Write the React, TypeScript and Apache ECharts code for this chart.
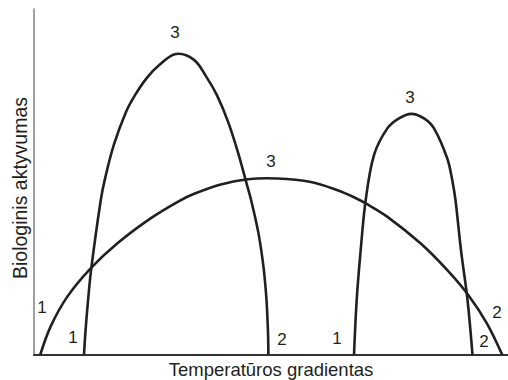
import React, { useEffect, useRef } from "react";
import * as echarts from "echarts";

// Curve 1: narrow tall arc (values in % of axis range)
const tallX = [10.55, 10.84, 11.41, 12.09, 14.09, 15.02, 16.84, 19.41, 21.31, 23.82, 26.43, 29.92, 33.76, 36.5, 38.59, 40.97, 43.0, 44.94, 45.8, 47.34, 48.42, 49.05, 49.37, 49.45];
const tallY = [0, 6.4, 15.9, 25.1, 44.8, 51.2, 60.7, 70.2, 75.1, 80.1, 83.8, 87.0, 85.3, 80.1, 75.1, 67.3, 58.7, 49.1, 44.8, 35.3, 25.4, 15.9, 6.4, 0];

// Curve 2: wide low arc
const wideX = [1.3, 3.5, 7.0, 12.0, 17.6, 24.6, 30.6, 33.8, 39.4, 45.1, 51.3, 58.4, 63.9, 67.5, 70.0, 74.5, 81.6, 87.2, 91.8, 95.6, 98.8];
const wideY = [0, 8.2, 16.8, 25.1, 32.3, 39.5, 44.5, 46.6, 49.3, 50.8, 51.0, 50.0, 47.7, 45.6, 43.8, 40.0, 32.2, 24.5, 17.0, 9.0, 0];

// Curve 3: right narrow arc
const rightX = [67.51, 68.08, 68.92, 69.98, 71.73, 74.54, 77.0, 79.6, 82.28, 84.39, 87.19, 88.23, 88.92, 90.08, 91.46, 92.51];
const rightY = [0, 15.9, 30.3, 44.8, 57.8, 65.5, 68.4, 69.7, 68.4, 65.5, 56.8, 50.6, 44.8, 30.3, 15.9, 0];

const xAxisTitle = "Temperatūros gradientas";
const yAxisTitle = "Biologinis aktyvumas";
const markTexts = ["1", "1", "2", "1", "2", "2", "3", "3", "3"];
const markPos: [number, number][] = [
  [42, 307],
  [73, 337],
  [282, 339],
  [337, 338],
  [484, 341],
  [497, 312],
  [175, 32],
  [271, 161],
  [410, 97],
];

const zip = (xs: number[], ys: number[]) => xs.map((x, i) => [x, ys[i]]);

const FONT = "'Liberation Sans', Arial, Helvetica, sans-serif";
const INK = "#231f20";

export default function App() {
  const ref = useRef<HTMLDivElement>(null);
  useEffect(() => {
    if (!ref.current) return;
    const chart = echarts.init(ref.current, null, { renderer: "svg" });
    const curveSeries = (xs: number[], ys: number[]) => ({
      type: "custom",
      data: zip(xs, ys),
      encode: { x: 0, y: 1 },
      silent: true,
      clip: false,
      renderItem: (params: any, api: any) => {
        if (params.dataIndex !== 0) return { type: "group", children: [] };
        const pts = xs.map((x, i) => api.coord([x, ys[i]]));
        return {
          type: "polyline",
          shape: { points: pts, smooth: 0.35 },
          style: { stroke: INK, lineWidth: 2.6, fill: null, lineJoin: "round", lineCap: "butt" },
        };
      },
    });
    chart.setOption({
      animation: false,
      backgroundColor: "#ffffff",
      grid: { left: 34, right: 0, top: 9, bottom: 25, containLabel: false },
      xAxis: {
        type: "value",
        min: 0,
        max: 100,
        axisLine: { show: true, onZero: false, lineStyle: { color: "#333333", width: 2 } },
        axisTick: { show: false },
        axisLabel: { show: false },
        splitLine: { show: false },
      },
      yAxis: {
        type: "value",
        min: 0,
        max: 100,
        axisLine: { show: true, onZero: false, lineStyle: { color: "#808080", width: 1.5 } },
        axisTick: { show: false },
        axisLabel: { show: false },
        splitLine: { show: false },
      },
      series: [curveSeries(tallX, tallY), curveSeries(wideX, wideY), curveSeries(rightX, rightY)],
      graphic: [
        {
          type: "text",
          x: 271,
          y: 369,
          style: {
            text: xAxisTitle,
            fontSize: 18.5,
            fontFamily: FONT,
            fill: INK,
            textAlign: "center",
            textVerticalAlign: "middle",
          },
        },
        {
          type: "text",
          x: 20,
          y: 188,
          rotation: Math.PI / 2,
          style: {
            text: yAxisTitle,
            fontSize: 19.5,
            fontFamily: FONT,
            fill: INK,
            textAlign: "center",
            textVerticalAlign: "middle",
          },
        },
        ...markTexts.map((t, i) => ({
          type: "text",
          x: markPos[i][0],
          y: markPos[i][1],
          style: {
            text: t,
            fontSize: 17,
            fontFamily: FONT,
            fill: INK,
            textAlign: "center",
            textVerticalAlign: "middle",
          },
        })),
      ],
    });
    return () => chart.dispose();
  }, []);
  return (
    <div
      ref={ref}
      style={{ position: "fixed", left: 0, top: 0, width: 508, height: 380, background: "#fff" }}
    />
  );
}
